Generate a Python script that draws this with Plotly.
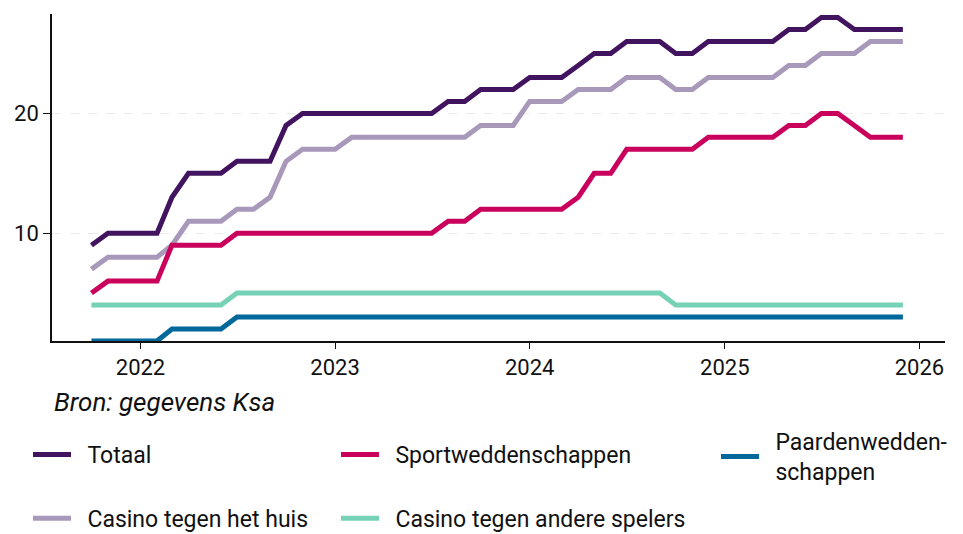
import pandas as pd
import plotly.graph_objects as go

# Monthly observations, Oct 2021 .. Dec 2025
months = pd.date_range("2021-10-01", "2025-12-01", freq="MS")

totaal = [9, 10, 10,
          10, 10, 13, 15, 15, 15, 16, 16, 16, 19, 20, 20,
          20, 20, 20, 20, 20, 20, 20, 21, 21, 22, 22, 22,
          23, 23, 23, 24, 25, 25, 26, 26, 26, 25, 25, 26,
          26, 26, 26, 26, 27, 27, 28, 28, 27, 27, 27, 27]
casino_huis = [7, 8, 8,
               8, 8, 9, 11, 11, 11, 12, 12, 13, 16, 17, 17,
               17, 18, 18, 18, 18, 18, 18, 18, 18, 19, 19, 19,
               21, 21, 21, 22, 22, 22, 23, 23, 23, 22, 22, 23,
               23, 23, 23, 23, 24, 24, 25, 25, 25, 26, 26, 26]
sport = [5, 6, 6,
         6, 6, 9, 9, 9, 9, 10, 10, 10, 10, 10, 10,
         10, 10, 10, 10, 10, 10, 10, 11, 11, 12, 12, 12,
         12, 12, 12, 13, 15, 15, 17, 17, 17, 17, 17, 18,
         18, 18, 18, 18, 19, 19, 20, 20, 19, 18, 18, 18]
casino_andere = [4, 4, 4,
                 4, 4, 4, 4, 4, 4, 5, 5, 5, 5, 5, 5,
                 5, 5, 5, 5, 5, 5, 5, 5, 5, 5, 5, 5,
                 5, 5, 5, 5, 5, 5, 5, 5, 5, 4, 4, 4,
                 4, 4, 4, 4, 4, 4, 4, 4, 4, 4, 4, 4]
paarden = [1, 1, 1,
           1, 1, 2, 2, 2, 2, 3, 3, 3, 3, 3, 3,
           3, 3, 3, 3, 3, 3, 3, 3, 3, 3, 3, 3,
           3, 3, 3, 3, 3, 3, 3, 3, 3, 3, 3, 3,
           3, 3, 3, 3, 3, 3, 3, 3, 3, 3, 3, 3]

NB = "\u00a0\u00a0"
series = [
    ("Totaal", totaal, "#42145f", "legend"),
    ("Casino tegen het huis", casino_huis, "#a898ba", "legend"),
    ("Sportweddenschappen", sport, "#ca005d", "legend2"),
    ("Casino tegen andere spelers", casino_andere, "#76d2b6", "legend2"),
    ("Paardenwedden-<br>" + NB + "schappen", paarden, "#01689b", "legend3"),
]

FONT = "Roboto"
fig = go.Figure()
for name, vals, color, lg in series:
    fig.add_trace(go.Scatter(
        x=months, y=vals, mode="lines", name=NB + name,
        line=dict(color=color, width=5),
        legend=lg, legendgroup=name,
    ))

legend_common = dict(
    orientation="v", xref="container", yref="container",
    yanchor="top", xanchor="left", bgcolor="rgba(0,0,0,0)",
    font=dict(family=FONT, size=23, color="#111"),
    tracegroupgap=31, itemwidth=38,
)
fig.update_layout(
    width=963, height=534,
    margin=dict(l=44, r=26, t=6, b=201, autoexpand=False),
    paper_bgcolor="white", plot_bgcolor="white",
    font=dict(family=FONT, size=22, color="#111"),
    legend=dict(x=20 / 963, y=1 - 425 / 534, **legend_common),
    legend2=dict(x=328 / 963, y=1 - 425 / 534, **legend_common),
    legend3=dict(x=708 / 963, y=1 - 412 / 534, **legend_common),
    xaxis=dict(
        type="date", range=["2021-07-19", "2026-02-18"],
        tick0="2022-01-01", dtick="M12", tickformat="%Y",
        ticks="outside", ticklen=6, tickcolor="#111",
        showline=True, linecolor="#111", linewidth=1.5,
        showgrid=False, zeroline=False,
        tickfont=dict(family=FONT, size=22),
    ),
    yaxis=dict(
        range=[1, 28.3], tickvals=[10, 20],
        ticks="outside", ticklen=7, tickcolor="#111",
        showline=True, linecolor="#111", linewidth=1.5,
        showgrid=True, gridcolor="#ebebeb", griddash="dash", gridwidth=1,
        zeroline=False,
        tickfont=dict(family=FONT, size=22),
    ),
    annotations=[dict(
        text="<i>Bron: gegevens Ksa</i>", xref="paper", yref="paper",
        x=0, y=-0.1865, xanchor="left", yanchor="middle", showarrow=False,
        font=dict(family=FONT, size=26, color="#111"),
    )],
)

fig.write_html("out.html")
